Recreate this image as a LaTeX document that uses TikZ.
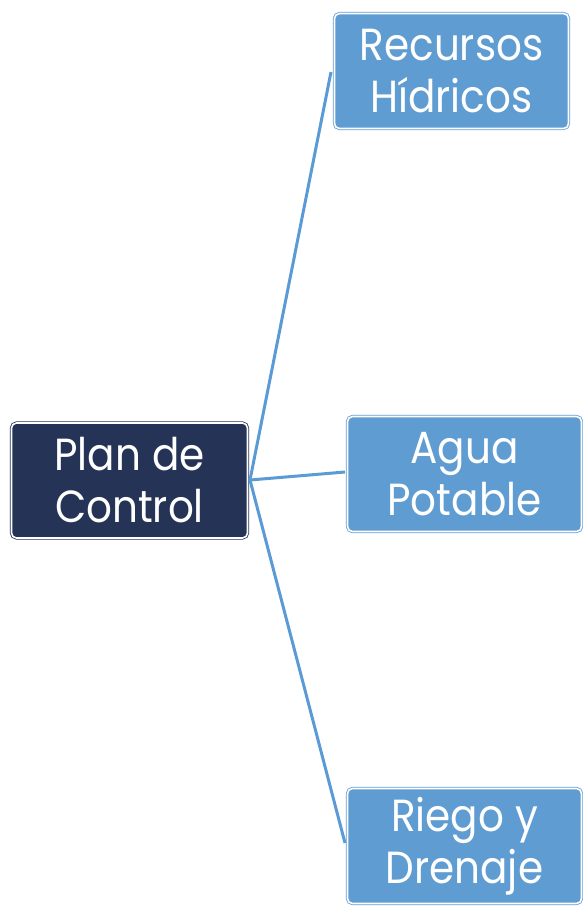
\documentclass[tikz,border=0pt]{standalone}
\usepackage{fontspec}
\setmainfont[FakeStretch=0.9]{Poppins}
\definecolor{navy}{HTML}{253356}
\definecolor{sky}{HTML}{5F9CD2}
\definecolor{linkblue}{HTML}{5B9BD5}
\tikzset{
  boxbase/.style={rounded corners=5pt, minimum width=#1, align=center, inner sep=0pt,
    text=white, font=\fontsize{45}{52}\selectfont, double=white, double distance=1.6pt, line width=0.8pt},
  rootbox/.style={boxbase=236pt, fill=navy, draw=navy, minimum height=115pt},
  leafbox/.style={boxbase=234pt, fill=sky, draw=sky, minimum height=115pt},
  link/.style={draw=linkblue, line width=3pt}
}
\begin{document}
\begin{tikzpicture}[x=1pt,y=-1pt]
\useasboundingbox (0,0) rectangle (583,906);
\node[rootbox] (plan) at (129.5,480.5) {Plan de\\Control};
\node[leafbox] (rec) at (451.5,71) {Recursos\\Hídricos};
\node[leafbox] (agua) at (464.5,474) {Agua\\Potable};
\node[leafbox] (riego) at (464.5,846) {Riego y\\Drenaje};
\coordinate (hub) at (250,480);
\coordinate (e1) at (331,72);
\coordinate (e2) at (345,472);
\coordinate (e3) at (345,843);
\draw[link] (hub) -- (e1);
\draw[link] (hub) -- (e2);
\draw[link] (hub) -- (e3);
\end{tikzpicture}
\end{document}
